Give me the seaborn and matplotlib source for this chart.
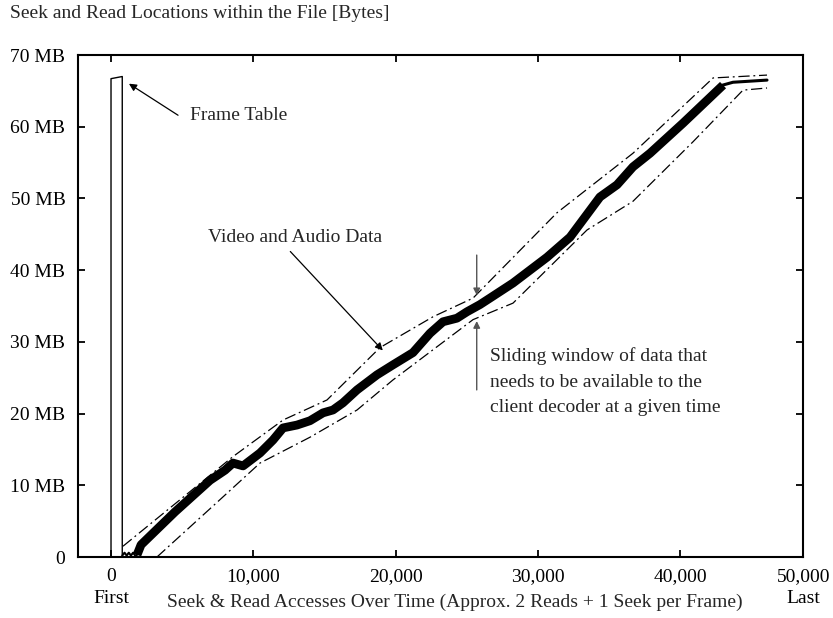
import numpy as np
import pandas as pd
import seaborn as sns
import matplotlib.pyplot as plt

# seek/read positions (x = access index, y = MB)
frame_x = [0, 0, 790, 790]
frame_y = [0, 66.7, 67.0, 0]

start_x = [790, 950, 1100, 1250, 1400, 1550, 1700, 1830]
start_y = [0.2, 0.6, 0.2, 0.6, 0.2, 0.6, 0.2, 0.3]

band_x = [1830, 2110, 4500, 6960, 8010, 8570, 9280, 10470, 11380, 12090, 13070,
          13980, 14900, 15600, 16300, 17290, 18690, 19820, 21220, 22420, 23330,
          24310, 25020, 25930, 26630, 28250, 30640, 32260, 34360, 35560, 36680,
          37880, 40200, 43010]
band_y = [0.3, 1.7, 6.3, 10.7, 12.1, 13.1, 12.7, 14.5, 16.3, 18.0, 18.4,
          19.0, 20.1, 20.5, 21.5, 23.3, 25.4, 26.8, 28.5, 31.2, 32.8,
          33.3, 34.2, 35.2, 36.1, 38.2, 41.8, 44.6, 50.2, 51.9, 54.4,
          56.3, 60.5, 65.8]

tail_x = [42800, 43710, 46100]
tail_y = [65.7, 66.2, 66.5]

upper_x = [840, 8570, 12090, 15180, 18900, 22630, 25440, 31340, 36680, 42310, 46100]
upper_y = [1.5, 14.0, 19.1, 21.9, 29.2, 33.5, 36.1, 48.0, 56.3, 66.8, 67.2]

lower_x = [3230, 7660, 10470, 13980, 17290, 19820, 25440, 28250, 33450, 36680, 40900, 44410, 46100]
lower_y = [0.0, 8.0, 13.1, 16.7, 20.5, 24.7, 33.1, 35.4, 45.6, 49.6, 57.9, 65.1, 65.4]

x_max = 48650
xtick_pos = [0, 10000, 20000, 30000, 40000, x_max]
xtick_labels = ["0\nFirst", "10,000", "20,000", "30,000", "40,000", "50,000\nLast"]
ytick_pos = [0, 10, 20, 30, 40, 50, 60, 70]
ytick_labels = ["0", "10 MB", "20 MB", "30 MB", "40 MB", "50 MB", "60 MB", "70 MB"]

sns.set_theme(style="ticks")
plt.rcParams['font.family'] = ['Liberation Serif', 'DejaVu Serif']
plt.rcParams['font.size'] = 14

fig = plt.figure(figsize=(8.33, 6.18), dpi=100)
ax = fig.add_axes([78 / 833, 1 - 557 / 618, (803.3 - 78) / 833, (557 - 55) / 618])

sns.lineplot(x=frame_x, y=frame_y, ax=ax, color="black", lw=1.0, sort=False, estimator=None)
sns.lineplot(x=start_x, y=start_y, ax=ax, color="black", lw=1.5, sort=False, estimator=None)
sns.lineplot(x=band_x, y=band_y, ax=ax, color="black", lw=6.3, sort=False, estimator=None,
             solid_capstyle="butt", solid_joinstyle="round")
sns.lineplot(x=tail_x, y=tail_y, ax=ax, color="black", lw=2.2, sort=False, estimator=None)
for xs, ys in [(upper_x, upper_y), (lower_x, lower_y)]:
    sns.lineplot(x=xs, y=ys, ax=ax, color="black", lw=0.9, sort=False, estimator=None,
                 dashes=False, linestyle=(0, (9, 3, 1.5, 3)))

ax.set_xlim(-2320, x_max)
ax.set_ylim(0, 70)
ax.set_xticks(xtick_pos)
ax.set_xticklabels(xtick_labels, linespacing=1.35)
ax.set_yticks(ytick_pos)
ax.set_yticklabels(ytick_labels)
ax.tick_params(direction="in", length=5, width=1.3, top=True, right=True,
               labelsize=14, colors="black", pad=8)
ax.tick_params(axis="y", pad=9)
for s in ax.spines.values():
    s.set_linewidth(1.5)
    s.set_color("black")
ax.set_xlabel("")
ax.set_ylabel("")

arrow_kw = dict(arrowstyle="-|>", color="black", lw=0.9, mutation_scale=11, shrinkA=0, shrinkB=0)
ax.annotate("", xy=(1260, 66.0), xytext=(4710, 61.6), arrowprops=arrow_kw)
ax.text(5550, 61.6, "Frame Table", va="center", ha="left", fontsize=14)

ax.text(6820, 44.5, "Video and Audio Data", va="center", ha="left", fontsize=14)
ax.annotate("", xy=(19100, 28.8), xytext=(12600, 42.6), arrowprops=arrow_kw)

gray_kw = dict(arrowstyle="-|>", color="#555555", lw=1.0, mutation_scale=10, shrinkA=0, shrinkB=0)
ax.annotate("", xy=(25700, 36.5), xytext=(25700, 42.1), arrowprops=gray_kw)
ax.annotate("", xy=(25700, 32.9), xytext=(25700, 23.3), arrowprops=gray_kw)
ax.text(26600, 29.3, "Sliding window of data that\nneeds to be available to the\nclient decoder at a given time",
        va="top", ha="left", fontsize=14, linespacing=1.68)

fig.text(10 / 833, 1 - 13 / 618, "Seek and Read Locations within the File [Bytes]",
         va="center", ha="left", fontsize=14)
fig.text(455 / 833, 1 - 602 / 618,
         "Seek & Read Accesses Over Time (Approx. 2 Reads + 1 Seek per Frame)",
         va="center", ha="center", fontsize=14)

fig.savefig("out.png", dpi=100, facecolor="white")
